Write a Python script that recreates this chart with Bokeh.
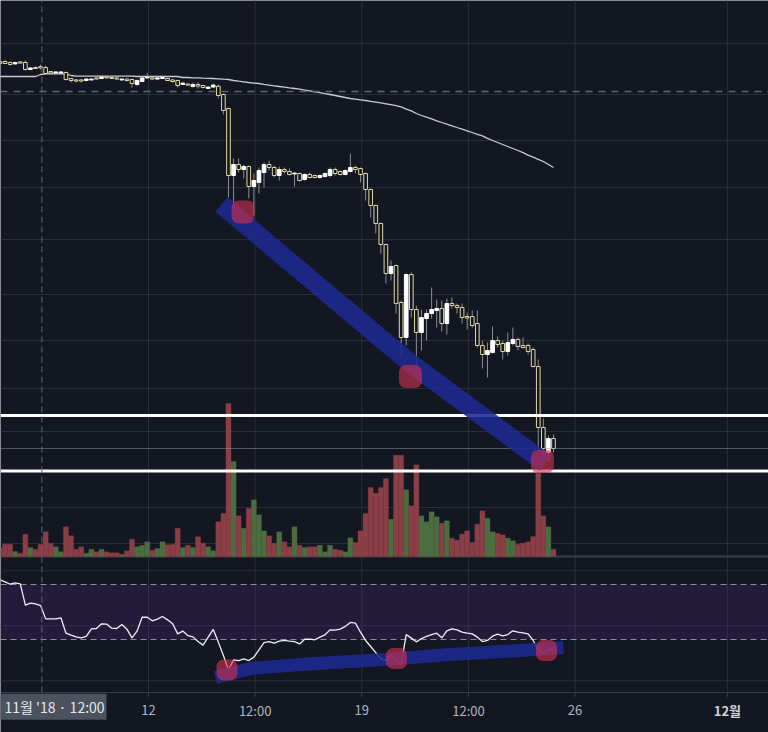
from bokeh.plotting import figure
from bokeh.models import Range1d
from bokeh.embed import file_html
from bokeh.resources import INLINE
from bokeh.core.properties import value

# ---------------- data (BTC 4h candles, Nov 2018; x = days since 2018-11-01) ----------------
first_candle_day = 6.125
candle_step = 1 / 6

opens = [6373, 6373, 6366, 6356, 6370, 6366, 6317, 6331, 6338, 6331,
         6303, 6292, 6292, 6296, 6254, 6244, 6244, 6240, 6244, 6258,
         6254, 6264, 6261, 6258, 6244, 6250, 6247, 6212, 6233, 6258,
         6258, 6250, 6254, 6254, 6244, 6240, 6212, 6215, 6198, 6212,
         6205, 6184, 6194, 6200, 6142, 6044, 5575, 5652, 5617, 5638,
         5498, 5526, 5596, 5652, 5631, 5575, 5617, 5603, 5586, 5589,
         5547, 5582, 5575, 5561, 5568, 5575, 5617, 5603, 5582, 5603,
         5631, 5624, 5589, 5477, 5365, 5239, 5092, 4889, 4945, 4686,
         4441, 4882, 4637, 4476, 4574, 4609, 4630, 4644, 4539, 4679,
         4665, 4651, 4588, 4588, 4539, 4385, 4322, 4336, 4420, 4399,
         4343, 4399, 4427, 4385, 4385, 4357, 4238, 3811, 3636, 3734]
highs = [6380, 6384, 6373, 6370, 6377, 6380, 6331, 6338, 6352, 6345,
         6306, 6303, 6306, 6303, 6258, 6250, 6247, 6254, 6254, 6261,
         6268, 6272, 6268, 6264, 6254, 6254, 6254, 6247, 6268, 6291,
         6261, 6261, 6264, 6258, 6247, 6247, 6226, 6219, 6226, 6230,
         6208, 6198, 6219, 6212, 6149, 6051, 5694, 5694, 5652, 5645,
         5589, 5631, 5666, 5680, 5645, 5638, 5631, 5624, 5596, 5596,
         5589, 5596, 5582, 5582, 5596, 5631, 5631, 5610, 5617, 5729,
         5645, 5631, 5596, 5484, 5372, 5246, 5099, 4980, 4952, 4700,
         4889, 4896, 4665, 4637, 4637, 4791, 4707, 4700, 4714, 4721,
         4679, 4679, 4616, 4630, 4630, 4420, 4406, 4518, 4448, 4420,
         4476, 4511, 4441, 4441, 4399, 4371, 4287, 3874, 3755, 3762]
lows = [6352, 6356, 6345, 6352, 6359, 6310, 6310, 6320, 6317, 6282,
        6289, 6289, 6289, 6240, 6226, 6226, 6226, 6233, 6240, 6247,
        6250, 6254, 6250, 6247, 6240, 6233, 6191, 6205, 6230, 6254,
        6247, 6247, 6250, 6236, 6226, 6191, 6208, 6205, 6191, 6184,
        6184, 6180, 6191, 6114, 6002, 5421, 5351, 5596, 5554, 5414,
        5295, 5449, 5491, 5610, 5561, 5540, 5589, 5575, 5498, 5533,
        5540, 5554, 5554, 5554, 5561, 5561, 5575, 5575, 5575, 5596,
        5589, 5526, 5400, 5281, 5169, 5029, 4819, 4840, 4609, 4301,
        4385, 4581, 4196, 4350, 4420, 4574, 4511, 4483, 4462, 4644,
        4609, 4539, 4497, 4511, 4371, 4224, 4161, 4329, 4371, 4287,
        4315, 4385, 4350, 4364, 4322, 4231, 3629, 3594, 3580, 3636]
closes = [6359, 6359, 6352, 6366, 6362, 6317, 6328, 6324, 6328, 6289,
          6292, 6300, 6300, 6247, 6240, 6236, 6236, 6250, 6250, 6250,
          6264, 6258, 6254, 6250, 6250, 6240, 6219, 6240, 6258, 6264,
          6250, 6258, 6261, 6240, 6233, 6205, 6222, 6208, 6212, 6201,
          6191, 6194, 6208, 6135, 6030, 5575, 5652, 5617, 5638, 5498,
          5540, 5610, 5652, 5631, 5575, 5617, 5603, 5582, 5592, 5540,
          5582, 5561, 5561, 5575, 5589, 5617, 5589, 5582, 5610, 5631,
          5617, 5582, 5477, 5365, 5239, 5092, 4889, 4938, 4679, 4441,
          4882, 4637, 4476, 4581, 4609, 4637, 4644, 4539, 4679, 4665,
          4651, 4581, 4578, 4525, 4385, 4322, 4350, 4420, 4392, 4343,
          4406, 4427, 4378, 4371, 4343, 4238, 3811, 3664, 3734, 3664]
volumes = [900, 1230, 1230, 500, 330, 2230, 900, 730, 1230, 2470,
           1330, 970, 470, 2970, 2070, 730, 970, 330, 730, 470,
           730, 470, 370, 370, 230, 570, 1730, 970, 1130, 1470,
           630, 800, 1470, 1170, 1230, 2830, 900, 1130, 900, 1970,
           1330, 970, 570, 3470, 4300, 15300, 9500, 4070, 2830, 4830,
           5670, 4170, 2570, 2070, 1330, 2470, 1470, 970, 2970, 1130,
           900, 970, 970, 1130, 470, 1130, 730, 630, 470, 1870,
           1400, 2570, 4300, 6900, 6330, 6900, 7800, 3730, 10130, 10130,
           6670, 5070, 9170, 4070, 3470, 4470, 3970, 3330, 3570, 1830,
           1630, 2230, 2570, 1400, 3230, 4570, 3830, 2470, 2330, 2170,
           1830, 1570, 1230, 1330, 1470, 2000, 8330, 4070, 2970, 730]
moving_avg = [6268, 6268, 6268, 6268, 6268, 6268, 6268, 6268, 6282, 6287,
              6287, 6287, 6287, 6287, 6275, 6270, 6270, 6270, 6270, 6270,
              6270, 6270, 6270, 6270, 6270, 6270, 6270, 6268, 6268, 6268,
              6268, 6268, 6268, 6268, 6268, 6268, 6261, 6261, 6259, 6258,
              6256, 6255, 6254, 6252, 6249, 6247, 6240, 6235, 6231, 6226,
              6222, 6219, 6213, 6208, 6203, 6198, 6193, 6188, 6184, 6179,
              6173, 6167, 6161, 6155, 6148, 6142, 6135, 6128, 6121, 6114,
              6110, 6105, 6100, 6094, 6089, 6083, 6077, 6071, 6064, 6055,
              6040, 6027, 6009, 5995, 5983, 5971, 5958, 5946, 5934, 5923,
              5911, 5900, 5888, 5876, 5863, 5852, 5835, 5820, 5806, 5792,
              5778, 5764, 5750, 5735, 5718, 5704, 5688, 5673, 5652, 5631]
rsi = [73.4, 71.9, 70.2, 71.2, 70.5, 55.0, 56.4, 55.9, 54.7, 45.0,
       45.0, 45.0, 45.8, 34.6, 33.2, 31.9, 31.2, 32.2, 37.8, 38.0,
       41.4, 41.2, 38.2, 38.0, 40.9, 37.5, 31.2, 36.1, 46.2, 46.2,
       43.6, 44.8, 46.7, 44.3, 41.4, 34.1, 36.1, 32.9, 31.9, 28.5,
       25.9, 31.7, 37.3, 28.1, 18.4, 7.9, 15.2, 14.7, 15.9, 14.7,
       17.2, 22.5, 27.8, 28.5, 27.3, 28.8, 29.3, 28.8, 28.5, 26.8,
       30.2, 30.2, 29.8, 31.7, 33.4, 37.0, 36.8, 37.5, 39.5, 42.4,
       41.9, 35.3, 29.3, 24.9, 20.5, 15.9, 14.7, 19.1, 14.5, 12.3,
       33.6, 31.0, 28.3, 30.7, 32.2, 33.6, 34.6, 31.2, 36.3, 37.8,
       37.0, 35.3, 34.6, 34.1, 31.7, 28.5, 29.3, 32.4, 33.9, 32.7,
       33.6, 36.3, 35.3, 34.8, 34.1, 29.3, 22.5, 19.6, 23.0, 22.5]

# time axis ticks (days since 2018-11-01)
tick_days = [11, 14.5, 18, 21.5, 25, 30]
tick_labels = ["12", "12:00", "19", "12:00", "26", "12월"]
crosshair_day = 7.5
crosshair_label = "11월 '18 · 12:00"

# price levels
price_grid = [6499, 6142, 5820, 5491, 5127, 4742, 4420, 4084, 3783, 3510, 3251, 2999]
level_white = [3895, 3506]
level_dashed = 6163
last_price = closes[-1]

# RSI levels
rsi_grid = [80, 40, 0]
rsi_upper, rsi_lower = 70, 30

# drawn annotations
trend_days = [13.40, 19.566, 24.03]
trend_prices = [5372, 4266, 3562]
mark_days = [14.101, 19.599, 23.931]
mark_prices = [5320, 4168, 3573]
rsi_trend_days = [13.199, 14.348, 15.988, 18.745, 20.911, 23.209, 24.620]
rsi_trend_vals = [2.4, 8.9, 11.8, 15.5, 19.1, 22.0, 24.2]
rsi_mark_days = [13.576, 19.139, 24.062]
rsi_mark_vals = [7.8, 16.2, 22.0]

# ---------------- derived ----------------
t = [first_candle_day + i * candle_step for i in range(len(opens))]
up = [c >= o for o, c in zip(opens, closes)]
body_top = [max(o, c) for o, c in zip(opens, closes)]
body_bot = [min(o, c) for o, c in zip(opens, closes)]

BG = "#131722"
GRID = "#2a2e39"
BAND = "#1c2a90"
MARK = "#d0304f"
FONT = value("Noto Sans CJK KR")
X0, X1 = 6.1428, 31.348
PRICE_TOP, PRICE_BOTTOM = 6800, 1676
MAIN_BOTTOM = 2908          # price at pane separator
RSI_TOP, RSI_BOTTOM = 90.36, -8.545
AXIS_LABEL_Y = -21.6

p = figure(width=768, height=732, x_range=Range1d(X0, X1),
           y_range=Range1d(PRICE_BOTTOM, PRICE_TOP),
           output_backend="svg", toolbar_location=None,
           x_axis_location=None, y_axis_location=None, min_border=0,
           outline_line_color=None, background_fill_color=BG, border_fill_color=BG)
p.extra_y_ranges = {"vol": Range1d(-17600, 55600), "rsi": Range1d(-37.636, 494.727)}
p.xgrid.visible = False
p.ygrid.visible = False

n_t = len(tick_days)
# grids - main pane
p.segment(x0=tick_days, x1=tick_days, y0=[MAIN_BOTTOM] * n_t, y1=[PRICE_TOP] * n_t,
          line_color=GRID, line_width=1)
p.segment(x0=[X0] * len(price_grid), x1=[X1] * len(price_grid), y0=price_grid, y1=price_grid,
          line_color=GRID, line_width=1)
# grids - RSI pane
p.segment(x0=tick_days, x1=tick_days, y0=[RSI_BOTTOM] * n_t, y1=[RSI_TOP] * n_t,
          line_color=GRID, line_width=1, y_range_name="rsi")
p.segment(x0=[X0] * 3, x1=[X1] * 3, y0=rsi_grid, y1=rsi_grid,
          line_color=GRID, line_width=1, y_range_name="rsi")
p.quad(left=[X0], right=[X1], bottom=[rsi_lower], top=[rsi_upper], y_range_name="rsi",
       fill_color="#6a2fa0", fill_alpha=0.2, line_color=None)
p.segment(x0=[X0, X0], x1=[X1, X1], y0=[rsi_upper, rsi_lower], y1=[rsi_upper, rsi_lower],
          y_range_name="rsi", line_color="#8a8d98", line_width=1, line_dash="6 4")

# pane separator
p.segment(x0=[X0], x1=[X1], y0=[MAIN_BOTTOM], y1=[MAIN_BOTTOM], line_color="#3b3f4a", line_width=2)

# volume
vol_colors = ["#4c6e3f" if u else "#8a3e46" for u in up]
p.vbar(x=t, width=candle_step, bottom=0, top=volumes, y_range_name="vol",
       fill_color=vol_colors, line_color=vol_colors, line_width=0.3)

# moving average
p.line(t, moving_avg, line_color="#c9cbd1", line_width=1.3)

# candles
p.segment(x0=t, x1=t, y0=lows, y1=highs, line_color="#8a8d96", line_width=1)
fills = ["#ffffff" if u else BG for u in up]
lines = ["#ffffff" if u else "#e3d7a3" for u in up]
p.vbar(x=t, width=0.12, top=body_top, bottom=body_bot, fill_color=fills,
       line_color=lines, line_width=1)

# price lines
p.segment(x0=[X0], x1=[X1], y0=[level_dashed], y1=[level_dashed],
          line_color="#5d6474", line_width=1.5, line_dash="7 6")
p.segment(x0=[X0] * 2, x1=[X1] * 2, y0=level_white, y1=level_white,
          line_color="#ffffff", line_width=3)
p.segment(x0=[X0], x1=[X1], y0=[last_price], y1=[last_price],
          line_color="#9598a1", line_width=1, line_dash="1 1")

# drawn trend band + markers (main)
p.line(trend_days, trend_prices, line_color=BAND, line_alpha=0.88, line_width=19,
       line_cap="butt", line_join="round")
p.rect(x=mark_days, y=mark_prices, width=23, height=23, width_units="screen",
       height_units="screen", fill_color=MARK, fill_alpha=0.62, line_color=None,
       border_radius=7)

# RSI
p.line(t, rsi, y_range_name="rsi", line_color="#f2eef5", line_width=1.3)
p.line(rsi_trend_days, rsi_trend_vals, y_range_name="rsi", line_color=BAND,
       line_alpha=0.88, line_width=13, line_cap="butt", line_join="round")
p.rect(x=rsi_mark_days, y=rsi_mark_vals, width=21, height=21, width_units="screen",
       height_units="screen", fill_color=MARK, fill_alpha=0.62, line_color=None,
       border_radius=7, y_range_name="rsi")

# crosshair
p.segment(x0=[crosshair_day], x1=[crosshair_day], y0=[RSI_BOTTOM], y1=[494.7],
          y_range_name="rsi", line_color="#5d6678", line_width=1, line_dash="6 4")

# time axis
p.segment(x0=[X0], x1=[X1], y0=[RSI_BOTTOM], y1=[RSI_BOTTOM], y_range_name="rsi",
          line_color="#3b3f4a", line_width=1)
p.segment(x0=tick_days, x1=tick_days, y0=[RSI_BOTTOM] * n_t, y1=[RSI_BOTTOM - 3.2] * n_t,
          y_range_name="rsi", line_color="#3b3f4a", line_width=1)
p.text(x=tick_days[:-1], y=[AXIS_LABEL_Y] * (n_t - 1), text=tick_labels[:-1],
       y_range_name="rsi", text_font=FONT, text_font_size="13px", text_color="#b2b5be",
       text_align="center", text_baseline="middle")
p.text(x=tick_days[-1:], y=[AXIS_LABEL_Y], text=tick_labels[-1:],
       y_range_name="rsi", text_font=FONT, text_font_size="13px", text_color="#d1d4dc",
       text_font_style="bold", text_align="center", text_baseline="middle")
p.quad(left=[X0 - 1], right=[9.622], top=[-9.5], bottom=[-28.4], y_range_name="rsi",
       fill_color="#4c525e", line_color=None)
p.text(x=[6.274], y=[-18.9], text=[crosshair_label], y_range_name="rsi", text_font=FONT,
       text_font_size="14px", text_color="#e6e8ee", text_align="left", text_baseline="middle")

open("out.html", "w").write(file_html(p, INLINE))
